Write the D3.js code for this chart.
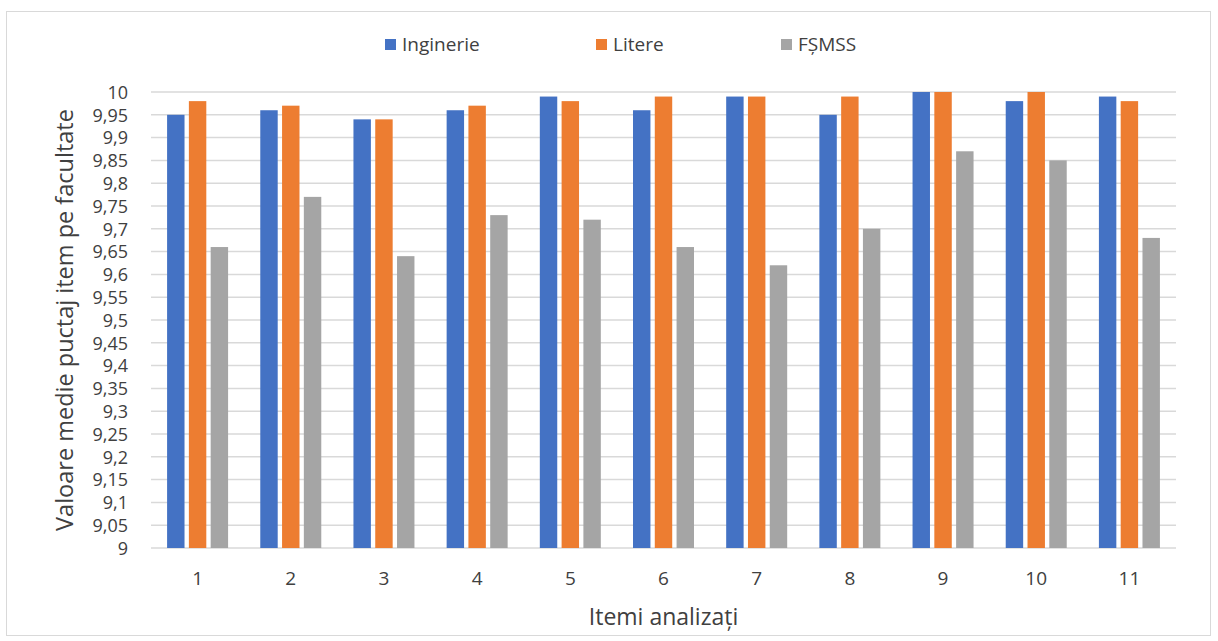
<!DOCTYPE html>
<html>
<head>
<meta charset="utf-8">
<script src="https://cdn.jsdelivr.net/npm/d3@7"></script>
<style>
  body { margin: 0; background: #fff; }
  svg text { font-family: "Open Sans", sans-serif; fill: #404040; }
</style>
</head>
<body>
<div id="chart"></div>
<script>
var items = ["1", "2", "3", "4", "5", "6", "7", "8", "9", "10", "11"];
var seriesNames = ["Inginerie", "Litere", "FȘMSS"];
var inginerie = [9.95, 9.96, 9.94, 9.96, 9.99, 9.96, 9.99, 9.95, 10, 9.98, 9.99];
var litere    = [9.98, 9.97, 9.94, 9.97, 9.98, 9.99, 9.99, 9.99, 10, 10, 9.98];
var fsmss     = [9.66, 9.77, 9.64, 9.73, 9.72, 9.66, 9.62, 9.70, 9.87, 9.85, 9.68];
var yTicks = [9, 9.05, 9.1, 9.15, 9.2, 9.25, 9.3, 9.35, 9.4, 9.45, 9.5,
              9.55, 9.6, 9.65, 9.7, 9.75, 9.8, 9.85, 9.9, 9.95, 10];
var colors = ["#4472c4", "#ed7d31", "#a5a5a5"];

var w = 1218, h = 641;
var plotLeft = 151, plotRight = 1176, plotTop = 92, plotBottom = 548;

var svg = d3.select("#chart")
  .append("svg")
  .attr("width", w)
  .attr("height", h);

// outer frame
svg.append("rect")
  .attr("x", 6.5).attr("y", 11.5)
  .attr("width", 1204).attr("height", 624)
  .attr("fill", "none")
  .attr("stroke", "#d9d9d9");

var xScale = d3.scaleBand()
  .domain(items)
  .range([plotLeft, plotRight]);

var yScale = d3.scaleLinear()
  .domain([9, 10])
  .range([plotBottom, plotTop]);

var inner = d3.scaleBand()
  .domain(seriesNames)
  .range([-30.5, 30.5])
  .paddingInner(0.2);

// gridlines
svg.append("g")
  .selectAll("line")
  .data(yTicks)
  .enter()
  .append("line")
  .attr("x1", plotLeft).attr("x2", plotRight)
  .attr("y1", function(d) { return yScale(d); })
  .attr("y2", function(d) { return yScale(d); })
  .attr("stroke", "#d9d9d9")
  .attr("stroke-width", 1.5);

// y tick labels
var yAxis = svg.append("g")
  .attr("transform", "translate(128,0)")
  .call(d3.axisLeft(yScale)
    .tickValues(yTicks)
    .tickSize(0)
    .tickPadding(0)
    .tickFormat(function(d) { return d3.format("~g")(d).replace(".", ","); }));
yAxis.select(".domain").remove();
yAxis.selectAll("text")
  .attr("font-size", "18px")
  .attr("fill", "#404040")
  .attr("dy", "0.35em");

// bars
var allSeries = [inginerie, litere, fsmss];
allSeries.forEach(function(vals, s) {
  svg.append("g")
    .selectAll("rect")
    .data(vals)
    .enter()
    .append("rect")
    .attr("x", function(d, i) {
      return xScale(items[i]) + xScale.bandwidth() / 2 + inner(seriesNames[s]);
    })
    .attr("y", function(d) { return yScale(d); })
    .attr("width", inner.bandwidth())
    .attr("height", function(d) { return plotBottom - yScale(d); })
    .attr("fill", colors[s]);
});

// x tick labels
var xAxis = svg.append("g")
  .attr("transform", "translate(0," + plotBottom + ")")
  .call(d3.axisBottom(xScale).tickSize(0).tickPadding(24));
xAxis.select(".domain").remove();
xAxis.selectAll("text")
  .attr("font-size", "19px")
  .attr("fill", "#404040");

// axis titles
svg.append("text")
  .attr("x", (plotLeft + plotRight) / 2)
  .attr("y", 625)
  .attr("text-anchor", "middle")
  .attr("font-size", "23px")
  .text("Itemi analizați");

svg.append("text")
  .attr("transform", "translate(73,320) rotate(-90)")
  .attr("text-anchor", "middle")
  .attr("font-size", "23.5px")
  .text("Valoare medie puctaj item pe facultate");

// legend
var legendX = [385, 596, 781];
var legend = svg.append("g")
  .selectAll("g")
  .data(seriesNames)
  .enter()
  .append("g")
  .attr("transform", function(d, i) { return "translate(" + legendX[i] + ",39)"; });
legend.append("rect")
  .attr("width", 11).attr("height", 11)
  .attr("fill", function(d, i) { return colors[i]; });
legend.append("text")
  .attr("x", 17)
  .attr("y", 12)
  .attr("font-size", "19px")
  .text(function(d) { return d; });
</script>
</body>
</html>
